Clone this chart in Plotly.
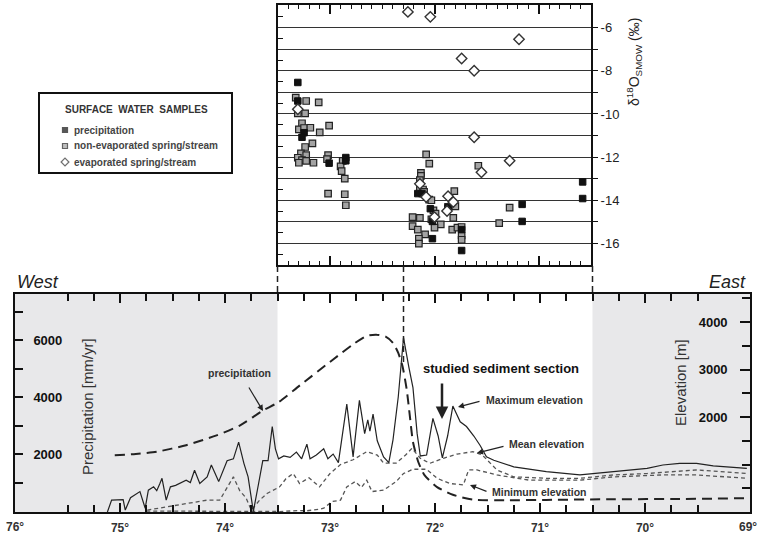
import plotly.graph_objects as go

W, H = 759, 536

# ---------------- data: lower profile ----------------
prec_lon = [75.05, 74.85, 74.65, 74.37, 74.08, 73.86, 73.64, 73.49, 73.29, 72.97, 72.78, 72.65,
            72.56, 72.47, 72.40, 72.35, 72.31, 72.27, 72.24, 72.21, 72.16, 72.10, 71.98, 71.83,
            71.64, 71.30, 70.94, 70.30, 69.67, 69.05]
prec_mm = [1960, 2000, 2080, 2310, 2655, 3000, 3525, 3820, 4400, 5320, 5850, 6150,
           6190, 6120, 5900, 5550, 5090, 4280, 3350, 2430, 1730, 1260, 840, 570,
           400, 380, 390, 415, 420, 450]

max_lon = [75.12, 75.08, 74.97, 74.95, 74.90, 74.81, 74.76, 74.73, 74.68, 74.65, 74.62, 74.60,
           74.56, 74.52, 74.47, 74.43, 74.37, 74.33, 74.29, 74.24, 74.17, 74.13, 74.06, 73.98,
           73.92, 73.87, 73.82, 73.78, 73.73, 73.68, 73.64, 73.59, 73.55, 73.52, 73.49, 73.44,
           73.38, 73.32, 73.27, 73.22, 73.19, 73.13, 73.06, 73.02, 72.97, 72.92, 72.84, 72.78,
           72.72, 72.67, 72.64, 72.62, 72.59, 72.55, 72.49, 72.44, 72.40, 72.35, 72.30, 72.25,
           72.21, 72.17, 72.14, 72.08, 72.02, 71.97, 71.93, 71.88, 71.83, 71.76, 71.70, 71.63,
           71.57, 71.51, 71.44, 71.25, 70.94, 70.62, 70.30, 69.98, 69.83, 69.67, 69.51, 69.35,
           69.03]
max_elev = [0, 250, 260, 40, 300, 430, 80, 460, 530, 450, 600, 710,
            250, 530, 560, 600, 670, 620, 880, 600, 740, 990, 640, 1080,
            1120, 1470, 1025, 740, 10, 600, 1080, 1080, 1800, 1330, 1120, 1180,
            1150, 1260, 1120, 1430, 1120, 1200, 1330, 1120, 1220, 1040, 2270, 1160,
            2350, 1650, 1940, 1700, 2060, 1500, 1160, 1040, 1520, 2420, 3670, 3060,
            2620, 1650, 1180, 1200, 1970, 1600, 1140, 1600, 2230, 1900, 1800, 1600,
            1400, 1160, 1090, 950, 850, 780, 850, 920, 990, 1025, 1025, 970,
            920]

mean_lon = [74.74, 74.55, 74.37, 74.17, 74.05, 73.98, 73.92, 73.86, 73.80, 73.75, 73.67, 73.60,
            73.48, 73.42, 73.35, 73.29, 73.20, 73.10, 73.00, 72.90, 72.78, 72.65, 72.55, 72.49,
            72.37, 72.28, 72.22, 72.14, 72.05, 71.92, 71.79, 71.64, 71.55, 71.41, 71.25, 70.94,
            70.62, 70.30, 69.98, 69.51, 69.03]
mean_elev = [40, 110, 180, 250, 250, 530, 740, 450, 300, 40, 250, 390,
             530, 700, 810, 600, 720, 530, 810, 1000, 1100, 1270, 1200, 1030,
             1030, 1200, 1340, 1130, 1025, 1130, 1220, 1270, 1200, 885, 740, 710,
             710, 780, 810, 885, 810]

min_lon = [74.75, 73.73, 73.48, 73.30, 73.22, 73.10, 73.06, 72.98, 72.90, 72.84, 72.76, 72.70,
           72.65, 72.60, 72.49, 72.37, 72.30, 72.21, 72.08, 71.98, 71.86, 71.73, 71.68, 71.60,
           71.41, 71.10, 70.62, 70.30, 69.83, 69.51, 69.03]
min_elev = [20, 20, 10, 30, 25, 60, 80, 220, 250, 530, 640, 520,
            670, 430, 460, 640, 810, 900, 900, 710, 600, 570, 885, 885,
            780, 670, 670, 740, 780, 780, 710]

# ---------------- data: isotope samples ----------------
p_lon = [73.31, 73.31, 73.25, 73.27, 73.01, 72.85, 72.85, 72.16, 72.12, 72.04, 72.02, 72.02,
         71.87, 71.74, 71.74, 70.58, 70.58, 71.16, 71.16]
p_d18o = [-8.54, -9.40, -10.87, -11.08, -12.28, -12.02, -12.17, -13.69, -13.69, -14.39, -14.98, -15.78,
          -14.35, -15.36, -16.33, -13.15, -13.92, -14.19, -14.98]

n_lon = [73.33, 73.23, 73.11, 73.31, 73.24, 73.27, 73.30, 73.25, 73.19, 73.01, 73.10, 73.17,
         73.24, 73.28, 73.23, 73.31, 73.27, 73.30, 73.23, 73.16, 73.02, 73.03, 72.88, 72.90,
         72.89, 72.86, 73.02, 72.86, 72.85,
         72.08, 72.05, 72.13, 72.13, 72.14, 72.14, 72.11, 72.10, 72.05, 72.03, 72.01, 71.99,
         72.21, 72.14, 72.03, 72.21, 72.16, 71.94, 72.00, 72.09, 72.15, 72.15, 71.81, 71.80,
         71.87, 71.82, 71.83, 71.78, 71.74, 71.74, 71.74, 71.58, 71.28, 71.38]
n_d18o = [-9.24, -9.40, -9.46, -9.97, -9.97, -10.43, -10.71, -10.65, -10.64, -10.54, -10.85, -11.36,
          -11.53, -11.83, -11.91, -12.03, -12.14, -12.26, -12.17, -12.26, -11.91, -12.09, -12.17, -12.43,
          -12.65, -13.00, -13.69, -13.72, -14.23,
          -11.87, -12.30, -12.73, -12.87, -13.07, -13.49, -13.50, -13.61, -13.97, -14.00, -14.47, -14.62,
          -14.78, -14.82, -14.88, -15.20, -15.36, -15.12, -15.27, -15.58, -15.78, -16.01, -13.58, -14.28,
          -14.31, -14.82, -15.36, -15.27, -15.24, -15.63, -15.83, -12.40, -14.34, -15.06]

e_lon = [72.255, 72.04, 71.19, 71.74, 71.62, 73.31, 71.62, 72.14, 72.08, 72.00, 71.87, 71.82,
         71.88, 71.55, 71.28]
e_d18o = [-5.27, -5.50, -6.54, -7.43, -8.00, -9.78, -11.08, -13.24, -13.85, -14.78, -13.81, -14.08,
          -14.50, -12.70, -12.17]

lon_ticks = [76, 75, 74, 73, 72, 71, 70, 69]
prec_ticks = [2000, 4000, 6000]
elev_ticks = [2000, 3000, 4000]
d18o_ticks = [-16, -15, -14, -13, -12, -11, -10, -9, -8, -7, -6]
legend_labels = ["precipitation", "non-evaporated spring/stream", "evaporated spring/stream"]

FONT = "Arial, Liberation Sans, sans-serif"


def px(x):
    return x / W


def py(y):
    return 1 - y / H


fig = go.Figure()

# lower panel curves
fig.add_trace(go.Scatter(x=prec_lon, y=prec_mm, xaxis="x", yaxis="y", mode="lines",
                         line=dict(color="#222", width=2, dash="10px,6px", shape="spline", smoothing=0.6),
                         showlegend=False, hoverinfo="skip"))
fig.add_trace(go.Scatter(x=mean_lon, y=mean_elev, xaxis="x", yaxis="y2", mode="lines",
                         line=dict(color="#555", width=1.3, dash="4px,3px"),
                         showlegend=False, hoverinfo="skip"))
fig.add_trace(go.Scatter(x=min_lon, y=min_elev, xaxis="x", yaxis="y2", mode="lines",
                         line=dict(color="#555", width=1.3, dash="4px,3px"),
                         showlegend=False, hoverinfo="skip"))
fig.add_trace(go.Scatter(x=max_lon, y=max_elev, xaxis="x", yaxis="y2", mode="lines",
                         line=dict(color="#222", width=1.2),
                         showlegend=False, hoverinfo="skip"))

# isotope samples
N_STYLE = dict(symbol="square", size=6.5, color="#a3a3a3", line=dict(color="#222", width=1.2))
P_STYLE = dict(symbol="square", size=6.5, color="#111", line=dict(color="#111", width=1))
E_STYLE = dict(symbol="diamond", size=8, color="white", line=dict(color="#333", width=1.4))
fig.add_trace(go.Scatter(x=n_lon, y=n_d18o, xaxis="x2", yaxis="y3", mode="markers",
                         name=legend_labels[1], marker=N_STYLE, showlegend=False))
fig.add_trace(go.Scatter(x=p_lon, y=p_d18o, xaxis="x2", yaxis="y3", mode="markers",
                         name=legend_labels[0], marker=P_STYLE, showlegend=False))
fig.add_trace(go.Scatter(x=e_lon, y=e_d18o, xaxis="x2", yaxis="y3", mode="markers",
                         name=legend_labels[2], marker=E_STYLE, showlegend=False))

# dummy trace to activate yaxis4
fig.add_trace(go.Scatter(x=[], y=[], xaxis="x2", yaxis="y4", showlegend=False))

# custom legend symbols on a hidden full-canvas axis pair (pixel units)
leg_rows = [130, 146, 162]
fig.add_trace(go.Scatter(x=[65, 65, 65], y=leg_rows, xaxis="x3", yaxis="y5", mode="markers",
                         showlegend=False, hoverinfo="skip",
                         marker=dict(symbol=["square", "square", "diamond"], size=[5, 5, 6],
                                     color=["#111", "#a3a3a3", "white"],
                                     line=dict(color=["#111", "#222", "#333"], width=1.2))))

inner_ticks = lon_ticks[1:-1]
fig.update_layout(
    width=W, height=H, margin=dict(l=0, r=0, t=0, b=0, autoexpand=False),
    paper_bgcolor="white", plot_bgcolor="rgba(0,0,0,0)",
    font=dict(family=FONT, color="#222"),
    xaxis=dict(domain=[px(15), px(750)], anchor="y", range=[76, 69], tickmode="array",
               tickvals=inner_ticks, ticktext=[f"{v}°" for v in inner_ticks],
               ticks="inside", ticklen=9, tickwidth=2, tickcolor="#111",
               showline=True, linewidth=2, linecolor="#111", mirror="ticks",
               showgrid=False, zeroline=False, automargin=False, ticklabelstandoff=4,
               tickfont=dict(family=FONT, size=12, color="#333", weight="bold"),
               minor=dict(tickmode="linear", tick0=0, dtick=0.25, ticks="inside", ticklen=7,
                          tickwidth=2, tickcolor="#111", showgrid=False)),
    yaxis=dict(domain=[py(512), py(294)], anchor="x", range=[-35, 7617], tickmode="array",
               tickvals=prec_ticks, ticks="inside", ticklen=8, tickwidth=2, tickcolor="#111",
               ticklabelposition="inside", ticklabelstandoff=10,
               showline=True, linewidth=2, linecolor="#111",
               showgrid=False, zeroline=False, automargin=False,
               tickfont=dict(family=FONT, size=13, color="#111", weight="bold"),
               minor=dict(tickmode="linear", tick0=0, dtick=1000, ticks="inside", ticklen=8,
                          tickwidth=2, tickcolor="#111", showgrid=False)),
    yaxis2=dict(overlaying="y", anchor="x", side="right", range=[0, 4590], tickmode="array",
                tickvals=elev_ticks, ticks="inside", ticklen=10, tickwidth=2, tickcolor="#111",
                ticklabelposition="inside", ticklabelstandoff=12,
                showline=True, linewidth=2, linecolor="#111",
                showgrid=False, zeroline=False, automargin=False,
                tickfont=dict(family=FONT, size=13, color="#111", weight="bold"),
                minor=dict(tickmode="linear", tick0=0, dtick=500, ticks="inside", ticklen=8,
                           tickwidth=2, tickcolor="#111", showgrid=False)),
    xaxis2=dict(domain=[px(278), px(591)], anchor="y3", range=[73.5, 70.5], tickmode="array",
                tickvals=[73, 72, 71], showticklabels=False,
                ticks="inside", ticklen=9, tickwidth=1.5, tickcolor="#111",
                showline=True, linewidth=2, linecolor="#111", mirror="ticks",
                showgrid=False, zeroline=False, automargin=False,
                minor=dict(tickmode="linear", tick0=0, dtick=0.1, ticks="inside", ticklen=4,
                           tickwidth=1, tickcolor="#111", showgrid=False)),
    yaxis3=dict(domain=[py(265), py(5)], anchor="x2", side="right", range=[-17, -4.95],
                tickmode="array", tickvals=d18o_ticks,
                ticktext=[str(v) if v % 2 == 0 else "" for v in d18o_ticks],
                ticks="outside", ticklen=5, tickwidth=1.2, tickcolor="#111",
                showline=True, linewidth=2, linecolor="#111", mirror=True,
                showgrid=True, gridcolor="#333", gridwidth=1, zeroline=False, automargin=False,
                tickfont=dict(family=FONT, size=13, color="#222")),
    yaxis4=dict(overlaying="y3", anchor="x2", side="left", range=[-17, -4.95],
                tickmode="linear", tick0=-16.5, dtick=1, ticks="inside", ticklen=5,
                tickwidth=1.2, tickcolor="#111", showticklabels=False, showgrid=False,
                zeroline=False, showline=False, automargin=False),
    xaxis3=dict(domain=[0, 1], anchor="y5", range=[0, W], visible=False),
    yaxis5=dict(domain=[0, 1], anchor="x3", range=[H, 0], visible=False),
    showlegend=False,
)

shapes = []
for x0, x1 in [(76, 73.5), (70.5, 69)]:
    shapes.append(dict(type="rect", xref="x", yref="y domain", x0=x0, x1=x1, y0=0, y1=1,
                       fillcolor="#e8e8ea", line=dict(width=0), layer="below"))
for xv, yb in [(73.5, 294), (70.5, 294), (72.3, 362)]:
    shapes.append(dict(type="line", xref="x", yref="paper", x0=xv, x1=xv, y0=py(266), y1=py(yb),
                       line=dict(color="#222", width=1.5, dash="6px,4px")))
# legend frame
shapes.append(dict(type="rect", xref="paper", yref="paper", x0=px(39), x1=px(232),
                   y0=py(173), y1=py(93), line=dict(color="#111", width=2), fillcolor="white",
                   layer="below"))
fig.update_layout(shapes=shapes)


def label(text, x, y, size, color="#333", xanchor="center", angle=0):
    return dict(text=text, x=px(x), y=py(y), xref="paper", yref="paper", xanchor=xanchor,
                yanchor="middle", textangle=angle, showarrow=False,
                font=dict(family=FONT, size=size, color=color))


ann = []
# end tick labels of the longitude axis (sit on the plot edges)
ann.append(dict(text=f"<b>{lon_ticks[0]}°</b>", x=lon_ticks[0], xref="x", y=py(527), yref="paper",
                xanchor="center", yanchor="middle", showarrow=False,
                font=dict(family=FONT, size=12, color="#333")))
ann.append(dict(text=f"<b>{lon_ticks[-1]}°</b>", x=1, xref="paper", y=py(527), yref="paper",
                xanchor="right", yanchor="middle", showarrow=False,
                font=dict(family=FONT, size=12, color="#333")))
ann.append(label("<b>SURFACE  WATER  SAMPLES</b>", 136, 109, 10))
for lab, row in zip(legend_labels, leg_rows):
    ann.append(label("<b>" + lab + "</b>", 72, row, 10, "#444", xanchor="left"))
ann.append(label("<i>West</i>", 15, 282, 18, "#222", xanchor="left"))
ann.append(label("<i>East</i>", 748, 282, 18, "#222", xanchor="right"))
ann.append(label("Precipitation [mm/yr]", 87, 407, 15, angle=-90))
ann.append(label("Elevation [m]", 680, 383, 15, angle=-90))
ann.append(label("δ<sup>18</sup>O<sub>SMOW</sub> (‰)", 634, 62, 14, "#222", angle=-90))
ann.append(label("<b>precipitation</b>", 239, 373, 10.5))
ann.append(label("<b>studied sediment section</b>", 501, 368, 13, "#111"))
ann.append(label("<b>Maximum elevation</b>", 484, 400, 10.5, xanchor="left"))
ann.append(label("<b>Mean elevation</b>", 507, 444, 10.5, xanchor="left"))
ann.append(label("<b>Minimum elevation</b>", 490, 492, 10.5, xanchor="left"))


def arrow(hx, hy, tx, ty, width=1.2, size=1.0, head=2):
    return dict(text="", x=px(hx), y=py(hy), xref="paper", yref="paper", showarrow=True,
                ax=tx - hx, ay=ty - hy, axref="pixel", ayref="pixel", arrowhead=head,
                arrowsize=size, arrowwidth=width, arrowcolor="#222")


ann.append(arrow(263, 411, 248, 386))
ann.append(arrow(442, 419, 442, 382, width=2.5, size=1.0))
ann.append(arrow(458, 407, 481, 401))
ann.append(arrow(477, 453, 505, 446))
ann.append(arrow(470, 485, 488, 492))
fig.update_layout(annotations=ann)

fig.write_html("out.html", config={"displayModeBar": False},
               post_script="document.body.style.margin='0';document.body.style.overflow='hidden';")
